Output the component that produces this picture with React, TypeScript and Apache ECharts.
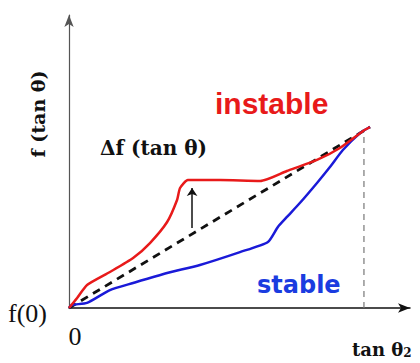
import React, { useEffect, useRef } from "react";
import * as echarts from "echarts";

// Curve values (x = tan θ, y = f(tan θ)), endpoint at tan θ2 = 10
const instableX = [0, 0.27, 0.6, 1.36, 2.13, 2.69, 3.26, 3.59, 3.69, 3.95, 5.02, 6.35, 7.24, 8.24, 9.0, 9.77, 10];
const instableY = [0, 0.55, 1.27, 1.99, 2.76, 3.59, 4.75, 5.97, 6.63, 7.07, 7.07, 7.02, 7.57, 8.18, 8.84, 9.78, 10];
const stableX = [0, 0.1, 0.6, 1.36, 2.13, 3.26, 4.35, 5.68, 6.61, 6.94, 7.24, 7.67, 8.24, 8.67, 9.1, 9.67, 10];
const stableY = [0, 0.17, 0.28, 0.99, 1.38, 1.93, 2.38, 3.09, 3.65, 4.48, 5.03, 5.8, 6.91, 7.79, 8.73, 9.67, 10];
const linearX = [0, 10];
const linearY = [0, 10];
const deltaArrowX = [4.09, 4.09];
const deltaArrowY = [4.42, 6.63];
const tanTheta2Guide = 9.8;
const guideTop = 9.83;
const xMax = 11.33;
const yMax = 16.19;

const zip = (xs: number[], ys: number[]) => xs.map((x, i) => [x, ys[i]]);

export default function App() {
  const ref = useRef<HTMLDivElement>(null);
  useEffect(() => {
    if (!ref.current) return;
    const chart = echarts.init(ref.current, undefined, { renderer: "svg" });
    chart.setOption({
      animation: false,
      backgroundColor: "#ffffff",
      grid: { left: 69, top: 15, width: 341, height: 293 },
      xAxis: {
        type: "value",
        min: 0,
        max: xMax,
        axisLine: {
          show: true,
          symbol: ["none", "arrow"],
          symbolSize: [7, 12],
          lineStyle: { color: "#111", width: 1.5 },
        },
        axisTick: { show: false },
        axisLabel: { show: false },
        splitLine: { show: false },
      },
      yAxis: {
        type: "value",
        min: 0,
        max: yMax,
        axisLine: {
          show: true,
          symbol: ["none", "arrow"],
          symbolSize: [7, 12],
          lineStyle: { color: "#555", width: 1.2 },
        },
        axisTick: { show: false },
        axisLabel: { show: false },
        splitLine: { show: false },
      },
      series: [
        {
          type: "line",
          data: [
            [tanTheta2Guide, 0],
            [tanTheta2Guide, guideTop],
          ],
          symbol: "none",
          lineStyle: { color: "#777", width: 1.2, type: [6, 5] },
          z: 1,
        },
        {
          type: "line",
          data: zip(linearX, linearY),
          symbol: "none",
          lineStyle: { color: "#111", width: 2.8, type: [8, 6] },
          z: 2,
        },
        {
          type: "line",
          data: zip(stableX, stableY),
          symbol: "none",
          smooth: 0.2,
          lineStyle: { color: "#1a1ad8", width: 2.5 },
          z: 3,
        },
        {
          type: "line",
          data: zip(instableX, instableY),
          symbol: "none",
          smooth: 0.2,
          lineStyle: { color: "#e81a1a", width: 2.5 },
          z: 4,
        },
        {
          type: "lines",
          coordinateSystem: "cartesian2d",
          symbol: ["none", "arrow"],
          symbolSize: 8,
          data: [{ coords: zip(deltaArrowX, deltaArrowY) }],
          lineStyle: { color: "#111", width: 1.5, opacity: 1 },
          z: 5,
        },
      ],
      graphic: [
        {
          type: "text",
          x: 38,
          y: 114,
          rotation: Math.PI / 2,
          style: { text: "f (tan θ)", font: "bold 19px 'DejaVu Serif'", fill: "#111", align: "center", verticalAlign: "middle" },
        },
        {
          type: "text",
          x: 100,
          y: 148,
          style: { text: "Δf (tan θ)", font: "bold 20px 'DejaVu Serif'", fill: "#111", align: "left", verticalAlign: "middle" },
        },
        {
          type: "text",
          x: 215,
          y: 103,
          style: { text: "instable", font: "bold 30px 'Liberation Sans'", fill: "#e81a1a", align: "left", verticalAlign: "middle" },
        },
        {
          type: "text",
          x: 257,
          y: 285,
          style: { text: "stable", font: "bold 24px 'DejaVu Sans'", fill: "#1a3ce0", align: "left", verticalAlign: "middle" },
        },
        {
          type: "text",
          x: 8,
          y: 313,
          style: { text: "f(0)", font: "26px 'Liberation Serif'", fill: "#111", align: "left", verticalAlign: "middle" },
        },
        {
          type: "text",
          x: 75,
          y: 336,
          style: { text: "0", font: "26px 'Liberation Serif'", fill: "#111", align: "center", verticalAlign: "middle" },
        },
        {
          type: "text",
          x: 352,
          y: 349,
          style: {
            text: "tan θ{sub|2}",
            font: "bold 18px 'DejaVu Serif'",
            fill: "#111",
            align: "left",
            verticalAlign: "middle",
            rich: {
              sub: { font: "bold 12px 'DejaVu Serif'", fill: "#111", verticalAlign: "bottom", padding: [8, 0, 0, 0] },
            },
          },
        },
      ],
    });
    return () => chart.dispose();
  }, []);
  return <div ref={ref} style={{ width: 420, height: 363, position: "absolute", left: 0, top: 0 }} />;
}
